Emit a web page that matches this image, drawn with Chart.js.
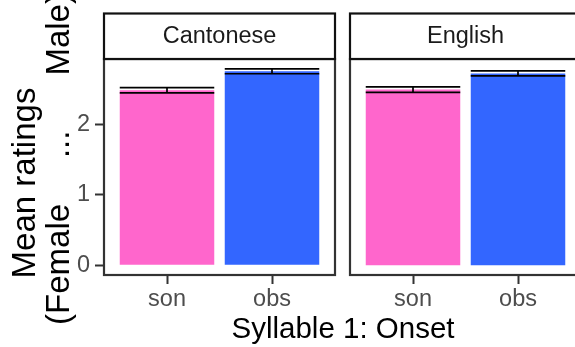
<!DOCTYPE html>
<html>
<head>
<meta charset="utf-8">
<script src="https://cdn.jsdelivr.net/npm/chart.js@4"></script>
<style>
  html, body { margin: 0; padding: 0; background: #fff; overflow: hidden; }
  #wrap { position: relative; width: 575px; height: 347px; overflow: hidden; font-family: "Liberation Sans", Arial, sans-serif; }
  #wrap canvas { position: absolute; top: 0; }
  .title { position: absolute; color: #000; white-space: pre; }
  .xtitle { font-size: 29.5px; line-height: 29.5px; transform: translateX(-50%); }
  .ytitle { font-size: 33px; line-height: 33px; transform: translate(-50%, -50%) rotate(-90deg); }
</style>
</head>
<body>
<div id="wrap">
  <canvas id="panelCantonese" width="342" height="347" style="left:0"></canvas>
  <canvas id="panelEnglish" width="239" height="347" style="left:342px"></canvas>
  <div class="title xtitle" style="left:343px; top:313px">Syllable 1: Onset</div>
  <div class="title ytitle" style="left:23px; top:183px">Mean ratings</div>
  <div class="title ytitle" style="left:57px; top:159px">(Female     ...      Male)</div>
</div>
<script>
// facet labels, onset categories and the bar values for each facet
const languages = ['Cantonese', 'English'];
const onsets = ['son', 'obs'];
const meanCantonese = [2.48, 2.75];
const seCantonese = [0.037, 0.035];
const meanEnglish = [2.49, 2.72];
const seEnglish = [0.04, 0.036];
const yTicks = [0, 1, 2];
const barColors = ['#FF66CC', '#3366FF'];

const FONT = '"Liberation Sans", Arial, sans-serif';
const yMax = 2.924;
const yMin = -0.139;

// ggplot-style strip, panel border and mean +/- se error bars
const facetPlugin = {
  id: 'facet',
  afterDraw(chart, args, opts) {
    const { ctx, chartArea: a } = chart;
    const xs = chart.scales.x, ys = chart.scales.y;
    const meta = chart.getDatasetMeta(0);

    ctx.save();
    ctx.strokeStyle = '#000';
    ctx.lineWidth = 1.7;
    opts.means.forEach((m, i) => {
      const half = meta.data[i].width / 2;
      const x = xs.getPixelForValue(i + 1);
      const hi = ys.getPixelForValue(m + opts.se[i]);
      const lo = ys.getPixelForValue(m - opts.se[i]);
      ctx.beginPath();
      ctx.moveTo(x - half, hi); ctx.lineTo(x + half, hi);
      ctx.moveTo(x - half, lo); ctx.lineTo(x + half, lo);
      ctx.moveTo(x, hi); ctx.lineTo(x, lo);
      ctx.stroke();
    });

    // panel border
    ctx.strokeStyle = '#333333';
    ctx.lineWidth = 2.2;
    ctx.strokeRect(a.left, a.top, a.right - a.left, a.bottom - a.top);

    // strip
    ctx.fillStyle = '#fff';
    ctx.fillRect(a.left, 13.5, a.right - a.left, a.top - 13.5);
    ctx.strokeStyle = '#111111';
    ctx.lineWidth = 2.2;
    ctx.strokeRect(a.left, 13.5, a.right - a.left, a.top - 13.5);
    ctx.fillStyle = '#1A1A1A';
    ctx.font = '23.5px ' + FONT;
    ctx.textAlign = 'center';
    ctx.textBaseline = 'middle';
    ctx.fillText(opts.label, (a.left + a.right) / 2, 37);
    ctx.restore();
  }
};

function makePanel(id, label, means, se, showY, pad) {
  return new Chart(document.getElementById(id), {
    type: 'bar',
    data: {
      datasets: [{
        data: onsets.map((o, i) => ({ x: i + 1, y: means[i] })),
        backgroundColor: barColors,
        barPercentage: 0.9,
        categoryPercentage: 1
      }]
    },
    options: {
      responsive: false,
      animation: false,
      devicePixelRatio: 1,
      layout: { padding: pad },
      plugins: {
        legend: { display: false },
        tooltip: { enabled: false },
        facet: { label: label, means: means, se: se }
      },
      scales: {
        x: {
          type: 'linear',
          offset: false,
          min: 0.4,
          max: 2.6,
          afterBuildTicks: s => { s.ticks = onsets.map((o, i) => ({ value: i + 1 })); },
          afterFit: s => { s.height = 72; },
          grid: { offset: false, drawOnChartArea: false, tickLength: 9, tickWidth: 2, tickColor: '#333333' },
          border: { display: false },
          ticks: {
            callback: (v, i) => onsets[i],
            color: '#4D4D4D',
            font: { family: FONT, size: 23.5 },
            padding: 1,
            autoSkip: false,
            maxRotation: 0
          }
        },
        y: {
          display: showY,
          min: yMin,
          max: yMax,
          afterBuildTicks: s => { s.ticks = yTicks.map(v => ({ value: v })); },
          afterFit: s => { s.width = showY ? 104 : 0; },
          grid: { drawOnChartArea: false, tickLength: 9, tickWidth: 2, tickColor: '#333333' },
          border: { display: false },
          ticks: {
            color: '#4D4D4D',
            font: { family: FONT, size: 23.5 },
            padding: 5
          }
        }
      }
    },
    plugins: [facetPlugin]
  });
}

makePanel('panelCantonese', languages[0], meanCantonese, seCantonese, true,
  { top: 59, right: 7, bottom: 0, left: 0 });
makePanel('panelEnglish', languages[1], meanEnglish, seEnglish, false,
  { top: 59, right: 0, bottom: 0, left: 8 });
</script>
</body>
</html>
